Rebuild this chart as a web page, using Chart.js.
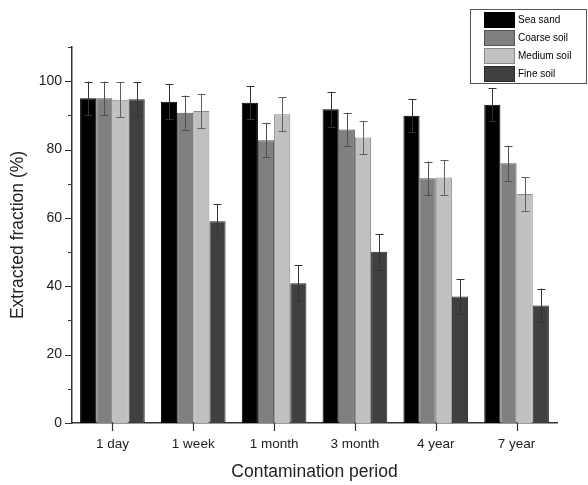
<!DOCTYPE html>
<html>
<head>
<meta charset="utf-8">
<script src="https://cdn.jsdelivr.net/npm/chart.js@4"></script>
<style>
html,body{margin:0;padding:0;background:#fff;}
#wrap{width:588px;height:485px;}
</style>
</head>
<body>
<div id="wrap"><canvas id="c" width="588" height="485"></canvas></div>
<script>
const categories = ['1 day', '1 week', '1 month', '3 month', '4 year', '7 year'];
const seriesNames = ['Sea sand', 'Coarse soil', 'Medium soil', 'Fine soil'];
const seaSand    = [95.0, 94.0, 93.7, 91.8, 89.9, 93.1];
const coarseSoil = [95.0, 90.8, 82.7, 85.9, 71.6, 76.0];
const mediumSoil = [94.6, 91.3, 90.3, 83.5, 71.8, 67.0];
const fineSoil   = [94.7, 59.0, 40.9, 50.1, 37.0, 34.4];
const seaSandErr    = [4.9, 5.1, 4.9, 5.1, 4.9, 4.8];
const coarseSoilErr = [4.9, 5.0, 5.0, 4.9, 4.9, 5.1];
const mediumSoilErr = [5.1, 5.0, 5.0, 4.9, 5.0, 4.9];
const fineSoilErr   = [5.0, 5.0, 5.2, 5.2, 5.0, 4.9];
const yTicks = [0, 20, 40, 60, 80, 100];

const FONT = '"Liberation Sans", Arial, sans-serif';

const styles = [
  {bg: '#000000', border: '#000000', err: '#333333'},
  {bg: '#808080', border: '#555555', err: '#505050'},
  {bg: '#c0c0c0', border: '#8a8a8a', err: '#606060'},
  {bg: '#404040', border: '#2a2a2a', err: '#333333'}
];
const values = [seaSand, coarseSoil, mediumSoil, fineSoil];
const errors = [seaSandErr, coarseSoilErr, mediumSoilErr, fineSoilErr];

const datasets = seriesNames.map((name, i) => ({
  label: name,
  data: values[i],
  errors: errors[i],
  errColor: styles[i].err,
  backgroundColor: styles[i].bg,
  borderColor: styles[i].border,
  borderWidth: 1,
  borderSkipped: 'bottom',
  barPercentage: 1.0,
  categoryPercentage: 0.8
}));

const errorBars = {
  id: 'errorBars',
  afterDatasetsDraw(chart) {
    const ctx = chart.ctx;
    const y = chart.scales.y;
    chart.data.datasets.forEach((ds, di) => {
      const meta = chart.getDatasetMeta(di);
      meta.data.forEach((bar, i) => {
        const v = ds.data[i], e = ds.errors[i];
        const yt = y.getPixelForValue(v + e);
        const yb = y.getPixelForValue(v - e);
        const x = Math.round(bar.x) + 0.5;
        ctx.save();
        ctx.strokeStyle = ds.errColor;
        ctx.lineWidth = 1;
        ctx.beginPath();
        ctx.moveTo(x, yt); ctx.lineTo(x, yb);
        ctx.moveTo(x - 4, Math.round(yt) + 0.5); ctx.lineTo(x + 4, Math.round(yt) + 0.5);
        ctx.moveTo(x - 4, Math.round(yb) + 0.5); ctx.lineTo(x + 4, Math.round(yb) + 0.5);
        ctx.stroke();
        ctx.restore();
      });
    });
  }
};

const axisTicks = {
  id: 'axisTicks',
  afterDraw(chart) {
    const ctx = chart.ctx;
    const y = chart.scales.y, x = chart.scales.x;
    ctx.save();
    ctx.strokeStyle = '#333333';
    ctx.lineWidth = 1.2;
    ctx.beginPath();
    for (let v = y.min; v <= y.max; v += 10) {
      const py = Math.round(y.getPixelForValue(v)) + 0.5;
      const len = (v % 20 === 0) ? 7 : 4;
      ctx.moveTo(y.right, py); ctx.lineTo(y.right - len, py);
    }
    categories.forEach((c, i) => {
      const px = Math.round(x.getPixelForValue(i)) + 0.5;
      ctx.moveTo(px, x.top); ctx.lineTo(px, x.top + 8);
    });
    ctx.stroke();
    ctx.restore();
  }
};

const boxLegend = {
  id: 'boxLegend',
  afterDraw(chart) {
    const ctx = chart.ctx;
    const bx = 470.5, by = 9.5, bw = 116, bh = 74;
    ctx.save();
    ctx.fillStyle = '#ffffff';
    ctx.fillRect(bx, by, bw, bh);
    ctx.strokeStyle = '#555555';
    ctx.lineWidth = 1;
    ctx.strokeRect(bx, by, bw, bh);
    ctx.font = '10px ' + FONT;
    ctx.textBaseline = 'middle';
    ctx.textAlign = 'left';
    chart.data.datasets.forEach((ds, i) => {
      const ry = 12 + i * 18;
      ctx.fillStyle = ds.backgroundColor;
      ctx.fillRect(484, ry, 31, 16);
      ctx.strokeStyle = ds.borderColor;
      ctx.strokeRect(484.5, ry + 0.5, 30, 15);
      ctx.fillStyle = '#000000';
      ctx.fillText(ds.label, 518, ry + 8.5);
    });
    ctx.restore();
  }
};

new Chart(document.getElementById('c'), {
  type: 'bar',
  data: { labels: categories, datasets },
  plugins: [errorBars, axisTicks, boxLegend],
  options: {
    responsive: false,
    animation: false,
    devicePixelRatio: 1,
    layout: { padding: { top: 47, right: 31, left: 0, bottom: 0 } },
    plugins: { legend: { display: false }, tooltip: { enabled: false } },
    scales: {
      x: {
        type: 'category',
        offset: true,
        grid: { display: false, drawTicks: false },
        border: { display: true, color: '#333333', width: 1.5 },
        ticks: { color: '#222222', font: { family: FONT, size: 13.5 }, padding: 13 },
        title: { display: true, text: 'Contamination period', color: '#222222',
                 font: { family: FONT, size: 17.5 }, padding: { top: 6, bottom: 2 } },
        afterFit(s) { s.height = 62; }
      },
      y: {
        min: 0, max: 110,
        grid: { display: false, drawTicks: false },
        border: { display: true, color: '#333333', width: 1.5 },
        ticks: {
          stepSize: 10,
          autoSkip: false,
          color: '#222222',
          font: { family: FONT, size: 14 },
          padding: 10,
          callback: (v) => yTicks.includes(v) ? String(v) : ''
        },
        title: { display: true, text: 'Extracted fraction (%)', color: '#222222',
                 font: { family: FONT, size: 17.5 }, padding: { top: 8, bottom: 4 } },
        afterFit(s) { s.width = 72; }
      }
    }
  }
});
</script>
</body>
</html>
